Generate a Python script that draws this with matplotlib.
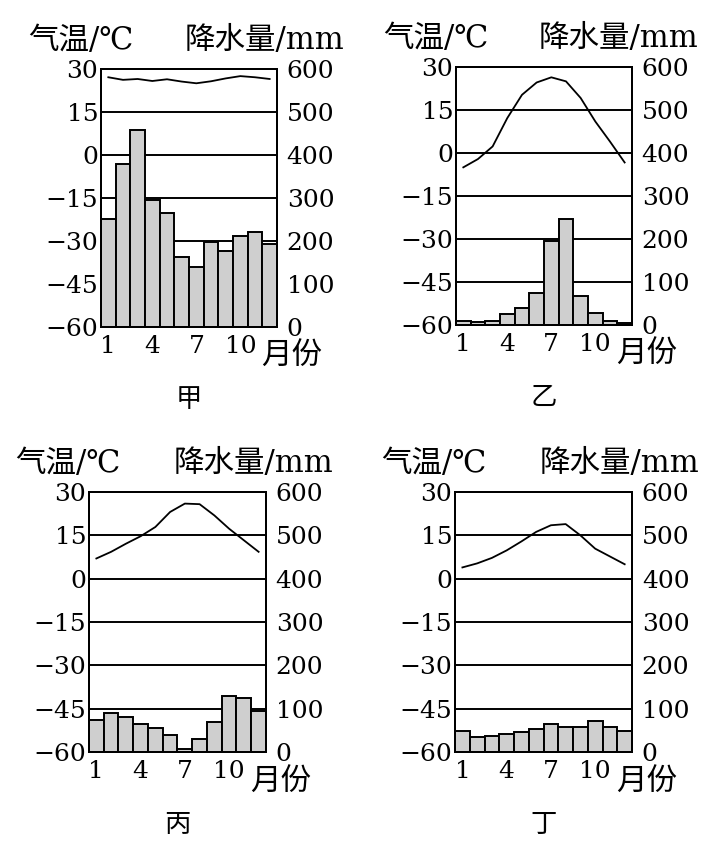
import numpy as np
import matplotlib
matplotlib.use('Agg')
from matplotlib import pyplot as plt

plt.rcParams['font.family'] = ['DejaVu Serif', 'Noto Sans CJK SC', 'DejaVu Sans']

months = np.arange(1, 13)
month_ticks = [1, 4, 7, 10]
temp_ticks = [30, 15, 0, -15, -30, -45, -60]
temp_labels = ['30', '15', '0', '\u221215', '\u221230', '\u221245', '\u221260']
prec_ticks = [600, 500, 400, 300, 200, 100, 0]

names = ['甲', '乙', '丙', '丁']

temp_jia = [27.1, 26.2, 26.5, 25.8, 26.4, 25.6, 25.0, 25.7, 26.7, 27.5, 27.1, 26.5]
prec_jia = [251, 378, 457, 295, 266, 163, 139, 197, 177, 211, 222, 192]

temp_yi = [-5.0, -2.1, 2.3, 12.2, 20.3, 24.6, 26.4, 25.0, 19.2, 11.0, 4.0, -3.3]
prec_yi = [9, 6, 9, 26, 40, 74, 195, 246, 68, 27, 10, 5]

temp_bing = [7.0, 9.3, 12.1, 14.7, 17.9, 23.1, 26.0, 25.8, 21.9, 17.3, 13.3, 9.3]
prec_bing = [75, 91, 80, 65, 55, 40, 8, 29, 70, 130, 125, 94]

temp_ding = [3.9, 5.3, 7.2, 9.8, 12.9, 16.2, 18.5, 18.9, 15.0, 10.4, 7.7, 5.0]
prec_ding = [48, 35, 38, 41, 46, 53, 65, 57, 57, 72, 58, 48]

temps = [temp_jia, temp_yi, temp_bing, temp_ding]
precs = [prec_jia, prec_yi, prec_bing, prec_ding]

# axes boxes in figure fractions
boxes = [
    [0.1395, 0.6135, 0.2431, 0.305],
    [0.6298, 0.6158, 0.2431, 0.305],
    [0.1229, 0.1111, 0.2445, 0.3073],
    [0.6285, 0.1111, 0.2445, 0.3073],
]


def main():
    fig = plt.figure(figsize=(7.24, 8.46), dpi=100)
    fs = 18
    for name, temp, prec, box in zip(names, temps, precs, boxes):
        ax = fig.add_axes(box)
        ax2 = ax.twinx()
        ax.set_xlim(0.5, 12.5)
        ax.set_ylim(-60, 30)
        ax2.set_ylim(0, 600)

        # grid lines behind the bars
        for p in prec_ticks[1:-1]:
            ax2.axhline(p, color='black', lw=1.4, zorder=1)
        ax2.bar(months, prec, width=1.0, color='#cfcfcf', edgecolor='black',
                linewidth=1.4, zorder=2)

        # temperature axis on top of the bars
        ax.set_zorder(ax2.get_zorder() + 1)
        ax.patch.set_visible(False)
        ax.plot(months, temp, color='black', lw=1.3)

        ax.set_yticks(temp_ticks)
        ax.set_yticklabels(temp_labels)
        ax2.set_yticks(prec_ticks)
        ax.set_xticks(month_ticks)
        ax.tick_params(axis='both', length=0, labelsize=fs)
        ax.tick_params(axis='y', pad=2)
        ax.tick_params(axis='x', pad=6)
        ax2.tick_params(axis='y', length=0, labelsize=fs, pad=7)
        for a in (ax, ax2):
            for s in a.spines.values():
                s.set_linewidth(1.4)

        ax.text(-0.415, 1.11, '气温/℃', transform=ax.transAxes, ha='left',
                va='center', fontsize=22)
        ax.text(1.38, 1.11, '降水量/mm', transform=ax.transAxes, ha='right',
                va='center', fontsize=22)
        ax.text(1.085, -0.115, '月份', transform=ax.transAxes, ha='center',
                va='center', fontsize=22)
        ax.text(0.5, -0.28, name, transform=ax.transAxes, ha='center',
                va='center', fontsize=19)

    fig.savefig('out.png', dpi=100)


if __name__ == '__main__':
    main()
